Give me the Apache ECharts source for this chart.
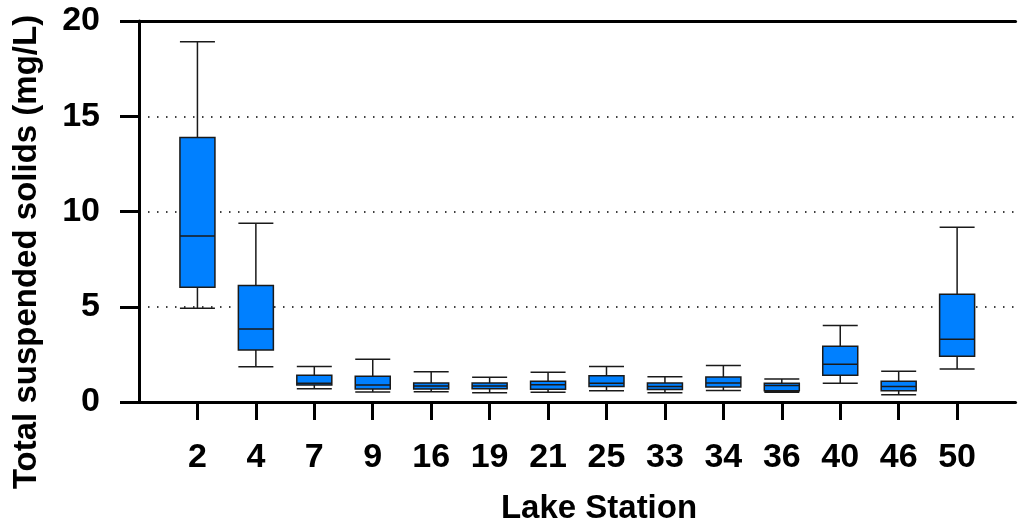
<!DOCTYPE html>
<html>
<head>
<meta charset="utf-8">
<script src="https://cdn.jsdelivr.net/npm/echarts@6/dist/echarts.min.js"></script>
<style>
html,body{margin:0;padding:0;background:#fff;}
#chart{width:1028px;height:527px;}
</style>
</head>
<body>
<div id="chart"></div>
<script>
// Lake stations (categories)
const stations = ['2','4','7','9','16','19','21','25','33','34','36','40','46','50'];
// Box statistics (mg/L)
const lowWhisker  = [4.92,1.85,0.70,0.52,0.54,0.49,0.51,0.59,0.49,0.61,0.51,0.98,0.38,1.73];
const q1          = [6.02,2.73,0.89,0.68,0.68,0.70,0.67,0.82,0.65,0.79,0.59,1.40,0.59,2.40];
const median      = [8.71,3.83,0.98,0.89,0.84,0.84,0.91,0.98,0.82,1.00,0.86,1.98,0.82,3.29];
const q3          = [13.89,6.11,1.40,1.35,1.00,1.00,1.09,1.38,1.00,1.31,0.99,2.92,1.09,5.65];
const highWhisker = [18.91,9.38,1.87,2.24,1.59,1.30,1.56,1.87,1.33,1.92,1.21,4.01,1.61,9.17];
// y-axis ticks
const yTicks = [0,5,10,15,20];

const FONT = '"Liberation Sans", Arial, sans-serif';
// pad the category axis with one blank slot on each side
const cats = [' '].concat(stations, ['  ']);
const boxData = [['-','-','-','-','-']].concat(
  stations.map((s,i)=>[lowWhisker[i],q1[i],median[i],q3[i],highWhisker[i]]),
  [['-','-','-','-','-']]
);

const chart = echarts.init(document.getElementById('chart'), null, {renderer:'canvas'});
chart.setOption({
  animation:false,
  backgroundColor:'#fff',
  grid:{left:139, right:-9, top:21, bottom:125, containLabel:false},
  xAxis:[{
    type:'category',
    data:cats,
    boundaryGap:false,
    axisLine:{show:true, lineStyle:{color:'#000', width:3}},
    axisTick:{show:true, length:18, lineStyle:{color:'#000', width:3},
      interval:(idx,val)=>val.trim()!==''},
    axisLabel:{show:true, interval:0, margin:39, color:'#000',
      fontFamily:FONT, fontWeight:'bold', fontSize:34},
    splitLine:{show:false}
  },{
    type:'category',
    data:cats,
    boundaryGap:false,
    position:'top',
    axisLine:{show:true, lineStyle:{color:'#000', width:3}},
    axisTick:{show:false},
    axisLabel:{show:false},
    splitLine:{show:false}
  }],
  yAxis:{
    type:'value',
    min:yTicks[0], max:yTicks[yTicks.length-1], interval:5,
    axisLine:{show:true, lineStyle:{color:'#000', width:3}},
    axisTick:{show:true, length:19, lineStyle:{color:'#000', width:3}},
    axisLabel:{margin:39, color:'#000', fontFamily:FONT, fontWeight:'bold', fontSize:34,
      formatter:(v)=> yTicks.indexOf(v)>=0 ? String(v) : ''},
    splitLine:{show:true, lineStyle:{color:'#000', width:1.5, type:[1.5,7.5]}},
  },
  graphic:[
    {type:'text', x:27, y:252, rotation:Math.PI/2,
      style:{text:'Total suspended solids (mg/L)', fill:'#000',
        font:'bold 33px '+FONT, textAlign:'center', textVerticalAlign:'middle'}},
    {type:'text', x:599, y:509,
      style:{text:'Lake Station', fill:'#000',
        font:'bold 33px '+FONT, textAlign:'center', textVerticalAlign:'middle'}}
  ],
  series:[{
    type:'boxplot',
    data:boxData,
    boxWidth:[35,35],
    itemStyle:{color:'#0080ff', borderColor:'#1a1a1a', borderWidth:1.5},
    emphasis:{disabled:true}
  }]
});
</script>
</body>
</html>
